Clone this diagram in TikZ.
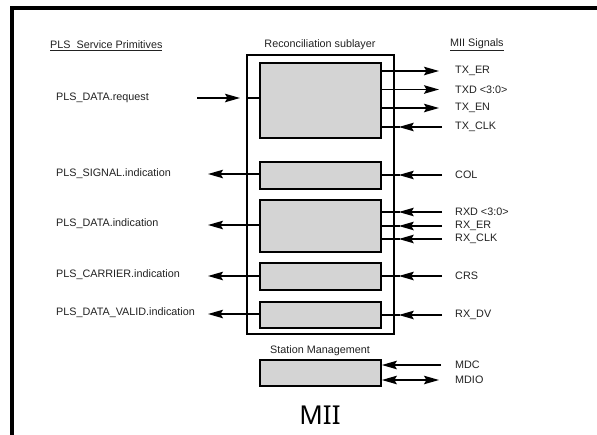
\documentclass[tikz,border=0pt]{standalone}
\usepackage{fontspec}
\setmainfont{Liberation Sans}
\newfontfamily\bigfont{Noto Sans}
\usetikzlibrary{arrows.meta,calc}
\definecolor{boxfill}{RGB}{212,212,212}
\definecolor{txt}{RGB}{34,34,34}
\tikzset{
  lbl/.style={font=\fontsize{10.8}{12}\selectfont, text=txt, inner sep=0pt, anchor=west},
  ttl/.style={font=\fontsize{10.8}{12}\selectfont, text=txt, inner sep=0pt},
  sub/.style={draw, line width=1.7pt, fill=boxfill, inner sep=0pt, minimum width=121pt},
  outerbox/.style={draw, line width=1.5pt, inner sep=0pt},
  arr/.style={line width=1.6pt, -{Stealth[length=15pt,width=8.5pt,inset=2.5pt]}},
  darr/.style={line width=1.6pt, {Stealth[length=15pt,width=8.5pt,inset=2.5pt]}-{Stealth[length=15pt,width=8.5pt,inset=2.5pt]}},
  ln/.style={line width=1.6pt}
}
\begin{document}
\begin{tikzpicture}[x=1pt,y=-1pt]
\useasboundingbox (0,0) rectangle (597,434);
\clip (0,0) rectangle (597,434);
\fill[white] (0,0) rectangle (597,434);
% frame
\draw[line width=4pt] (12,7.5) rectangle (640,480);

% outer reconciliation box
\node[outerbox, minimum width=147pt, minimum height=279pt] (outer) at (320.5,194.5) {};
\node[ttl] (rstitle) at (320,45) {Reconciliation sublayer};

% inner boxes
\node[sub, minimum height=75pt] (b1) at (320.5,100.5) {};
\node[sub, minimum height=27pt] (b2) at (320.5,175.5) {};
\node[sub, minimum height=52pt] (b3) at (320.5,226) {};
\node[sub, minimum height=27pt] (b4) at (320.5,276.5) {};
\node[sub, minimum height=26pt] (b5) at (320.5,315) {};
\node[sub, minimum height=26pt] (sm) at (320.5,373) {};
\node[ttl] (smtitle) at (320,351) {Station Management};

% left labels
\node[lbl] (plshead) at (50,46) {\underline{PLS~ Service Primitives}};
\node[lbl] (req) at (56,98) {PLS\_DATA.request};
\node[lbl] (sig) at (56,174) {PLS\_SIGNAL.indication};
\node[lbl] (dind) at (56,224) {PLS\_DATA.indication};
\node[lbl] (car) at (56,275) {PLS\_CARRIER.indication};
\node[lbl] (val) at (56,313) {PLS\_DATA\_VALID.indication};

% right labels
\node[lbl] (miihead) at (450,45) {\underline{MII Signals}};
\node[lbl] (txer) at (455,71) {TX\_ER};
\node[lbl] (txd) at (455,89.5) {TXD <3:0>};
\node[lbl] (txen) at (455,108) {TX\_EN};
\node[lbl] (txclk) at (455,127) {TX\_CLK};
\node[lbl] (col) at (455,175) {COL};
\node[lbl] (rxd) at (455,212) {RXD <3:0>};
\node[lbl] (rxer) at (455,226) {RX\_ER};
\node[lbl] (rxclk) at (455,239) {RX\_CLK};
\node[lbl] (crs) at (455,276) {CRS};
\node[lbl] (rxdv) at (455,315) {RX\_DV};
\node[lbl] (mdc) at (455,365) {MDC};
\node[lbl] (mdio) at (455,380) {MDIO};

\node[font=\bigfont\fontsize{26}{30}\selectfont, inner sep=0pt] (mii) at (320,415) {MII};

% left side connectors
\coordinate (reqstart) at (197,98);
\coordinate (reqend) at (240,98);
\draw[arr] (reqstart) -- (reqend);
\draw[ln] (outer.west |- reqstart) -- (b1.west |- reqstart);
\draw[arr] (b2.west |- 0,174) -- (208,174);
\draw[arr] (b3.west |- 0,225) -- (208,225);
\draw[arr] (b4.west |- 0,276) -- (208,276);
\draw[arr] (b5.west |- 0,314) -- (208,314);

% right side outputs
\draw[arr] (b1.east |- txer) -- ($(txer.west)+(-16,0)$);
\draw[arr] (b1.east |- txd) -- ($(txd.west)+(-16,0)$);
\draw[arr] (b1.east |- txen) -- ($(txen.west)+(-16,0)$);

% right side inputs (arrowhead just outside the outer box)
\foreach \s/\b in {txclk/b1, col/b2, rxd/b3, rxer/b3, rxclk/b3, crs/b4, rxdv/b5}{
  \draw[arr] ($(\s.west)+(-13,0)$) -- ($(outer.east |- \s)+(4,0)$);
  \draw[ln] ($(outer.east |- \s)+(5,0)$) -- (\b.east |- \s);
}

% station management
\draw[arr] ($(mdc.west)+(-14,0)$) -- (sm.east |- mdc);
\draw[darr] (sm.east |- mdio) -- ($(mdio.west)+(-16,0)$);
\end{tikzpicture}
\end{document}
